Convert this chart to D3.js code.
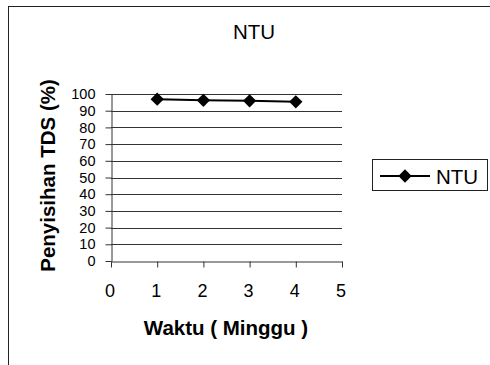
<!DOCTYPE html>
<html>
<head>
<meta charset="utf-8">
<script src="https://cdn.jsdelivr.net/npm/d3@7"></script>
<style>
  html, body { margin: 0; padding: 0; background: #fff; }
  svg { display: block; font-family: "Liberation Sans", Arial, sans-serif; }
</style>
</head>
<body>
<svg id="chart" width="490" height="365"></svg>
<script>
// Removal of TDS per week
const chartTitle = "NTU";
const seriesName = "NTU";
const weeks = [1, 2, 3, 4];
const removal = [96.9, 96.2, 95.9, 95.3];
const xTickValues = [0, 1, 2, 3, 4, 5];
const yTickValues = [0, 10, 20, 30, 40, 50, 60, 70, 80, 90, 100];
const xTitle = "Waktu ( Minggu )";
const yTitle = "Penyisihan TDS (%)";

const svg = d3.select("#chart");

// outer frame
svg.append("rect")
  .attr("x", 8.5).attr("y", 6.5)
  .attr("width", 500).attr("height", 400)
  .attr("fill", "none").attr("stroke", "#222").attr("stroke-width", 1);

const x = d3.scaleLinear().domain([0, 5]).range([111, 342]);
const y = d3.scaleLinear().domain([0, 100]).range([261, 94]);

// horizontal gridlines
svg.append("g")
  .selectAll("line")
  .data(yTickValues.filter(v => v > 0))
  .join("line")
  .attr("x1", x(0)).attr("x2", x(5))
  .attr("y1", d => Math.round(y(d)) + 0.5).attr("y2", d => Math.round(y(d)) + 0.5)
  .attr("stroke", "#333").attr("stroke-width", 1);

// y axis
const yAxis = svg.append("g")
  .attr("transform", `translate(${Math.round(x(0)) + 0.5},0)`)
  .call(d3.axisLeft(y).tickValues(yTickValues).tickFormat(d3.format("d"))
    .tickSize(6).tickPadding(10).tickSizeOuter(0));
yAxis.select(".domain").attr("stroke", "#333");
yAxis.selectAll(".tick line").attr("stroke", "#333");
yAxis.selectAll(".tick text")
  .attr("font-size", 14.5).attr("fill", "#000")
  .attr("font-family", "Liberation Sans, Arial, sans-serif");

// x axis
const xAxis = svg.append("g")
  .attr("transform", `translate(0,${Math.round(y(0)) + 0.5})`)
  .call(d3.axisBottom(x).tickValues(xTickValues).tickFormat(d3.format("d"))
    .tickSize(6).tickPadding(17).tickSizeOuter(0));
xAxis.select(".domain").attr("stroke", "#333");
xAxis.selectAll(".tick line").attr("stroke", "#333");
xAxis.selectAll(".tick text")
  .attr("font-size", 18).attr("fill", "#000").attr("dx", -1.5)
  .attr("font-family", "Liberation Sans, Arial, sans-serif");

// data line
const line = d3.line().x((d, i) => x(weeks[i])).y(d => y(d));
svg.append("path")
  .datum(removal)
  .attr("d", line)
  .attr("fill", "none").attr("stroke", "#000").attr("stroke-width", 2);

// diamond markers (square turned 45 degrees)
const diamond = d3.symbol().type(d3.symbolSquare).size(88);
svg.append("g")
  .selectAll("path")
  .data(removal)
  .join("path")
  .attr("d", diamond)
  .attr("transform", (d, i) => `translate(${x(weeks[i])},${y(d)}) rotate(45)`)
  .attr("fill", "#000");

// chart title
svg.append("text")
  .attr("x", 254).attr("y", 39)
  .attr("text-anchor", "middle").attr("font-size", 20.5)
  .text(chartTitle);

// axis titles
svg.append("text")
  .attr("x", 226).attr("y", 335)
  .attr("text-anchor", "middle").attr("font-size", 20.5).attr("font-weight", "bold")
  .text(xTitle);

svg.append("text")
  .attr("transform", "translate(55,175.5) rotate(-90)")
  .attr("text-anchor", "middle").attr("font-size", 20.5).attr("font-weight", "bold")
  .text(yTitle);

// legend
const lg = svg.append("g");
lg.append("rect")
  .attr("x", 372.5).attr("y", 159.5).attr("width", 115).attr("height", 31)
  .attr("fill", "#fff").attr("stroke", "#222").attr("stroke-width", 1);
lg.append("line")
  .attr("x1", 380).attr("x2", 430).attr("y1", 176).attr("y2", 176)
  .attr("stroke", "#000").attr("stroke-width", 2);
lg.append("path")
  .attr("d", diamond)
  .attr("transform", "translate(405,176) rotate(45)")
  .attr("fill", "#000");
lg.append("text")
  .attr("x", 436).attr("y", 184)
  .attr("font-size", 20.5)
  .text(seriesName);
</script>
</body>
</html>
